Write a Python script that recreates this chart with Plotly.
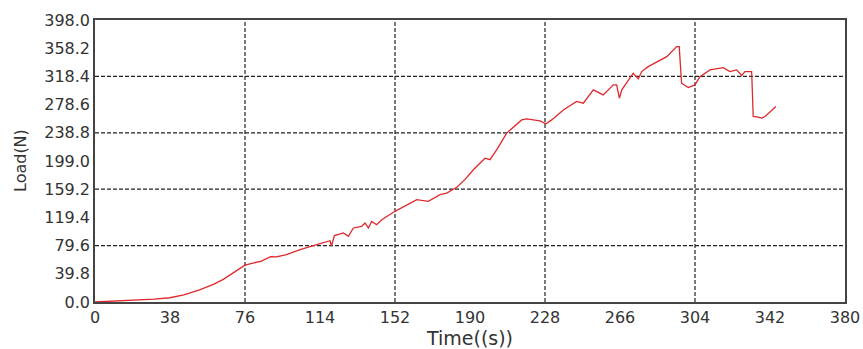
import plotly.graph_objects as go

time_s = [0, 10, 20, 30, 38, 45, 53, 60, 65, 70, 76, 80, 84, 89, 92, 97, 103.9,
          112.3, 119.1, 119.8, 121.3, 125.8, 128.4, 130.9, 135.1, 136.8, 138.5, 140.2,
          142.7, 145.3, 152, 163, 168.9, 174.8, 178.2, 183.3, 187.5, 191.7, 197.6, 200.1,
          203.5, 208.6, 216.2, 218.7, 225.5, 228.5, 231.4, 237.3, 244, 247.4, 252.5,
          257.5, 262.6, 264.3, 265.7, 266.9, 272.7, 275.3, 277, 280.3, 286.3, 289.7,
          294.7, 296, 297.2, 300.6, 304, 306.5, 311.6, 318.3, 321.7, 325.1, 327.7,
          329.3, 332.7, 333.5, 336, 337.8, 339.5, 342, 345]
load_n = [0, 1, 2.5, 4, 6, 10, 17, 25, 32, 41, 52, 55, 57.5, 64, 63.7, 67, 74,
          81, 86.5, 79, 93.7, 97.5, 92.7, 104.5, 106.8, 111.6, 104.5, 113.8,
          109, 116, 128, 144.4, 142, 151.5, 153.8, 162, 173, 186.7, 203, 200.8,
          214.8, 238.4, 257, 258.5, 255.7, 251.5, 257, 271, 283, 280.6, 299.4,
          292.3, 306.4, 306.4, 287.6, 299.4, 322.9, 314.9, 325.2, 332.2, 341.6, 346.3,
          360.4, 360.4, 308.8, 302.6, 306.4, 318, 327.6, 330.8, 325.2, 327.6, 319.6,
          325.2, 325.2, 261.8, 261, 259.5, 261.8, 268.8, 275.8]

x_ticks = [0, 38, 76, 114, 152, 190, 228, 266, 304, 342, 380]
y_ticks = [0.0, 39.8, 79.6, 119.4, 159.2, 199.0, 238.8, 278.6, 318.4, 358.2, 398.0]
x_grid = [76, 152, 228, 304]
y_grid = [79.6, 159.2, 238.8, 318.4]

fig = go.Figure()
fig.add_trace(go.Scatter(x=time_s, y=load_n, mode="lines",
                         line=dict(color="#e0282c", width=1.3), showlegend=False))

shapes = []
for gx in x_grid:
    shapes.append(dict(type="line", xref="x", yref="y", x0=gx, x1=gx, y0=0, y1=398,
                       line=dict(color="#222", width=1.2, dash="4px,2px"), layer="below"))
for gy in y_grid:
    shapes.append(dict(type="line", xref="x", yref="y", x0=0, x1=380, y0=gy, y1=gy,
                       line=dict(color="#222", width=1.2, dash="4px,2px"), layer="below"))

font = dict(family="DejaVu Sans", size=16, color="#333")
fig.update_layout(
    width=863, height=349,
    margin=dict(l=95, r=18, t=20, b=47),
    paper_bgcolor="white", plot_bgcolor="white",
    shapes=shapes, font=font,
    annotations=[dict(text="Load(N)", xref="paper", yref="paper",
                      x=-0.1, y=0.5, xanchor="center", yanchor="middle",
                      textangle=-90, showarrow=False, font=font)],
    xaxis=dict(range=[0, 380], tickvals=x_ticks, ticktext=[str(v) for v in x_ticks],
               showgrid=False, zeroline=False, showline=True, linecolor="#444",
               linewidth=1.5, mirror=True, ticks="", automargin=False,
               title=dict(text="Time((s))", standoff=0), tickfont=font),
    yaxis=dict(range=[0, 398], tickvals=y_ticks, ticktext=[f"{v:.1f}" for v in y_ticks],
               showgrid=False, zeroline=False, showline=True, linecolor="#444",
               linewidth=1.5, mirror=True, ticks="", automargin=False,
               tickfont=font),
)
fig.write_html("out.html", config={"displayModeBar": False},
               post_script="document.body.style.margin='0';document.body.style.overflow='hidden';")
